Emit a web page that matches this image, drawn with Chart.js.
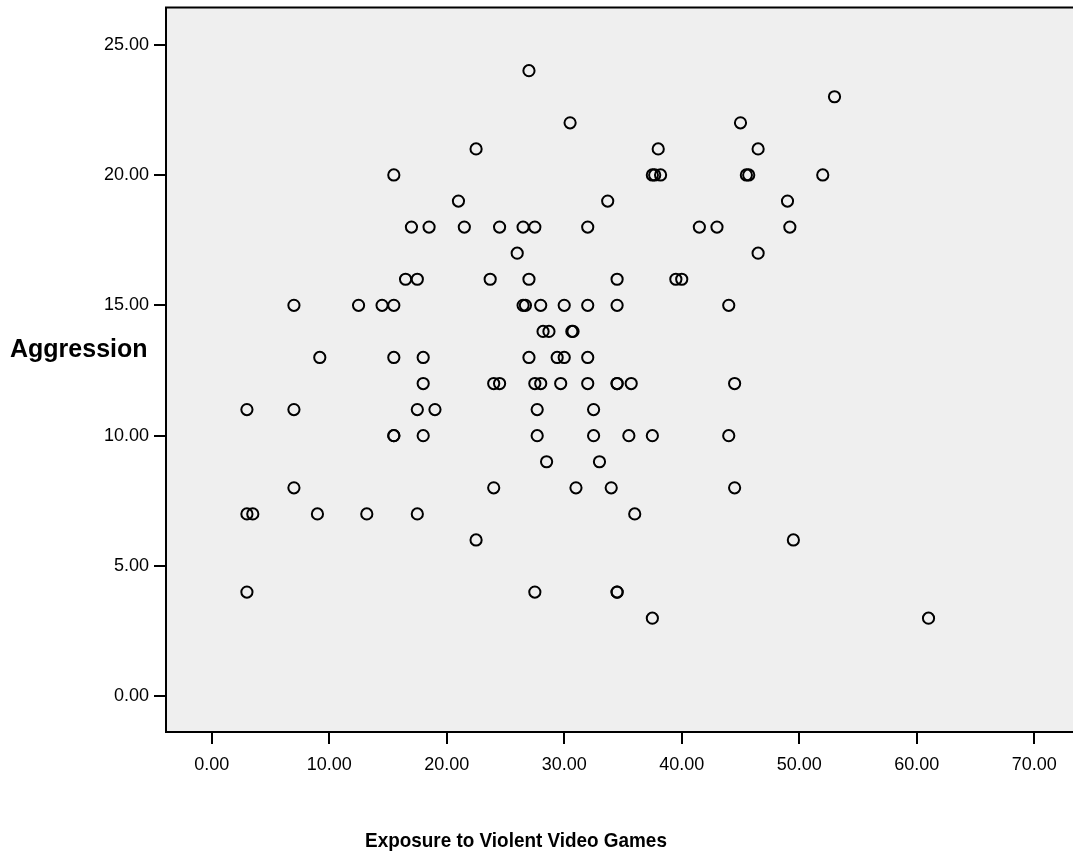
<!DOCTYPE html>
<html>
<head>
<meta charset="utf-8">
<title>Aggression vs Exposure to Violent Video Games</title>
<script src="https://cdn.jsdelivr.net/npm/chart.js@4.4.1/dist/chart.umd.min.js"></script>
<style>
  html, body { margin: 0; padding: 0; background: #fff; overflow: hidden; }
  #wrap { position: relative; width: 1097px; height: 856px; }
</style>
</head>
<body>
<div id="wrap"><canvas id="grafico" width="1097" height="856"></canvas></div>
<script>
// one entry per case, grouped by aggression score
const exposure = [
  27,
  53,
  30.5, 45,
  22.5, 38, 46.5,
  15.5, 37.5, 37.7, 38.2, 45.5, 45.7, 52,
  21, 33.7, 49,
  17, 18.5, 21.5, 24.5, 26.5, 27.5, 32, 41.5, 43, 49.2,
  26, 46.5,
  16.5, 17.5, 23.7, 27, 34.5, 39.5, 40,
  7, 12.5, 14.5, 15.5, 26.5, 26.7, 28, 30, 32, 34.5, 44,
  28.2, 28.7, 30.65, 30.75,
  9.2, 15.5, 18, 27, 29.4, 30, 32,
  18, 24, 24.5, 27.5, 28, 29.7, 32, 34.5, 34.5, 35.7, 44.5,
  3, 7, 17.5, 19, 27.7, 32.5,
  15.5, 15.5, 18, 27.7, 32.5, 35.5, 37.5, 44,
  28.5, 33,
  7, 24, 31, 34, 44.5,
  3, 3.5, 9, 13.2, 17.5, 36,
  22.5, 49.5,
  3, 27.5, 34.5, 34.5,
  37.5, 61
];
const aggression = [
  24,
  23,
  22, 22,
  21, 21, 21,
  20, 20, 20, 20, 20, 20, 20,
  19, 19, 19,
  18, 18, 18, 18, 18, 18, 18, 18, 18, 18,
  17, 17,
  16, 16, 16, 16, 16, 16, 16,
  15, 15, 15, 15, 15, 15, 15, 15, 15, 15, 15,
  14, 14, 14, 14,
  13, 13, 13, 13, 13, 13, 13,
  12, 12, 12, 12, 12, 12, 12, 12, 12, 12, 12,
  11, 11, 11, 11, 11, 11,
  10, 10, 10, 10, 10, 10, 10, 10,
  9, 9,
  8, 8, 8, 8, 8,
  7, 7, 7, 7, 7, 7,
  6, 6,
  4, 4, 4, 4,
  3, 3
];
const xTicks = [0, 10, 20, 30, 40, 50, 60, 70];
const yTicks = [0, 5, 10, 15, 20, 25];
const xTitle = "Exposure to Violent Video Games";
const yTitle = "Aggression";

const pontos = exposure.map((x, i) => ({ x: x, y: aggression[i] }));

Chart.defaults.font.family = "'Liberation Sans', Arial, sans-serif";
Chart.defaults.color = "#000";

// fundo cinza, linha de cima e títulos horizontais
const moldura = {
  id: "moldura",
  beforeDraw(chart) {
    const { ctx, chartArea: a } = chart;
    ctx.save();
    ctx.fillStyle = "#efefef";
    ctx.fillRect(a.left, a.top, a.right - a.left, a.bottom - a.top);
    ctx.restore();
  },
  afterDraw(chart) {
    const { ctx, chartArea: a } = chart;
    ctx.save();
    ctx.strokeStyle = "#000";
    ctx.lineWidth = 2;
    ctx.beginPath();
    ctx.moveTo(a.left - 1, a.top);
    ctx.lineTo(a.right, a.top);
    ctx.stroke();

    ctx.fillStyle = "#000";
    ctx.textBaseline = "middle";
    ctx.font = "bold 25px 'Liberation Sans', Arial, sans-serif";
    ctx.textAlign = "left";
    ctx.fillText(yTitle, 10, 350);

    ctx.font = "bold 21px 'Liberation Sans', Arial, sans-serif";
    ctx.translate(516, 841);
    ctx.scale(0.9, 1);
    ctx.textAlign = "center";
    ctx.fillText(xTitle, 0, 0);
    ctx.restore();
  }
};

// sem margem extra das escalas: a área do gráfico fica onde o layout manda
function semMargem(scale) {
  scale.paddingTop = 0;
  scale.paddingBottom = 0;
  scale.paddingLeft = 0;
  scale.paddingRight = 0;
}

const tickFont = { size: 18 };
const gridOpts = { drawOnChartArea: false, drawTicks: true, tickLength: 12, color: "#000", lineWidth: 2 };
const borderOpts = { display: true, color: "#000", width: 2 };

new Chart(document.getElementById("grafico"), {
  type: "scatter",
  data: {
    datasets: [{
      label: yTitle,
      data: pontos,
      pointStyle: "circle",
      pointRadius: 5.6,
      pointBorderWidth: 2,
      pointBorderColor: "#000",
      pointBackgroundColor: "rgba(0,0,0,0)",
      pointHoverRadius: 5.6
    }]
  },
  options: {
    responsive: false,
    animation: false,
    layout: { padding: { top: 6, left: 0, right: 0, bottom: 0 } },
    plugins: {
      legend: { display: false },
      tooltip: { enabled: false }
    },
    scales: {
      x: {
        type: "linear",
        min: -3.886,
        max: 74.69,
        afterFit(scale) { scale.height = 124; semMargem(scale); },
        afterBuildTicks(scale) { scale.ticks = xTicks.map(v => ({ value: v })); },
        ticks: { font: tickFont, padding: 10, maxRotation: 0, autoSkip: false, callback: v => v.toFixed(2) },
        grid: gridOpts,
        border: borderOpts
      },
      y: {
        type: "linear",
        min: -1.366,
        max: 26.42,
        afterFit(scale) { scale.width = 166; semMargem(scale); },
        afterBuildTicks(scale) { scale.ticks = yTicks.map(v => ({ value: v })); },
        ticks: { font: tickFont, padding: 5, autoSkip: false, callback: v => v.toFixed(2) },
        grid: gridOpts,
        border: borderOpts
      }
    }
  },
  plugins: [moldura]
});
</script>
</body>
</html>
